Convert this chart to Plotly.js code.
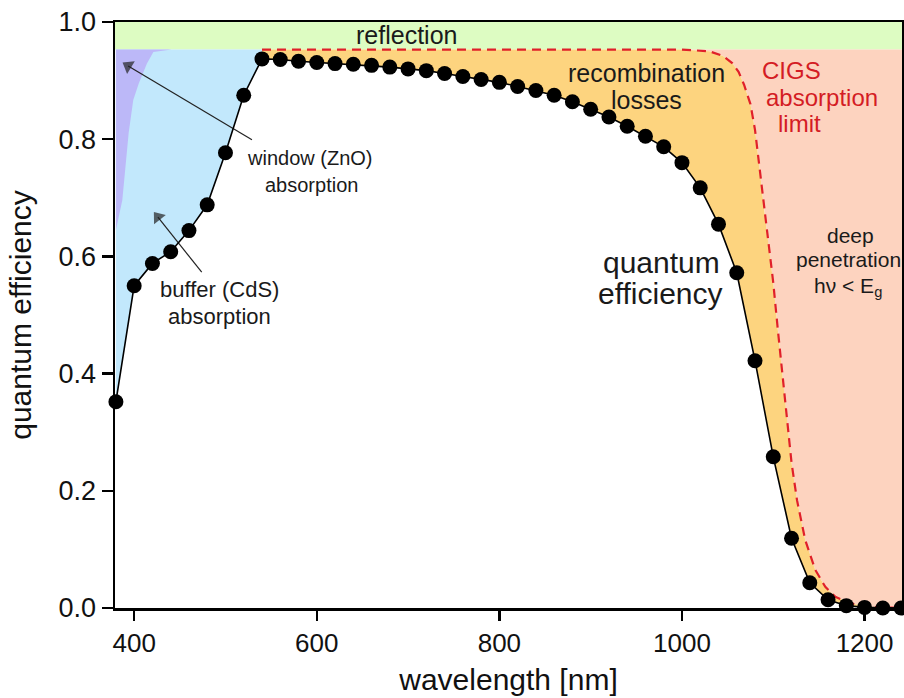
<!DOCTYPE html>
<html>
<head>
<meta charset="utf-8">
<script src="https://cdn.plot.ly/plotly-3.0.1.min.js"></script>
<style>html,body{margin:0;padding:0;background:#fff;}#chart{width:904px;height:698px;}</style>
</head>
<body>
<div id="chart"></div>
<script>
// Measured quantum efficiency (every 20 nm)
const wavelength = [380,400,420,440,460,480,500,520,540,560,580,600,620,640,660,680,700,720,740,760,780,800,820,840,860,880,900,920,940,960,980,1000,1020,1040,1060,1080,1100,1120,1140,1160,1180,1200,1220,1240];
const qe = [0.352,0.550,0.588,0.608,0.644,0.688,0.777,0.875,0.937,0.936,0.933,0.931,0.929,0.928,0.926,0.923,0.920,0.917,0.912,0.907,0.902,0.897,0.890,0.883,0.875,0.864,0.851,0.838,0.822,0.805,0.787,0.760,0.717,0.655,0.572,0.422,0.258,0.119,0.043,0.014,0.004,0.001,0.000,0.000];

// Reflection-loss level (top band up to 1.0)
const reflectionLevel = 0.953;
const fullScale = 1.0;

// CIGS absorption limit (red dashed)
const limitX = [540,1000,1030,1045,1055,1062,1068,1075,1080,1085,1090,1095,1100,1105,1110,1115,1120,1126,1135,1146,1157,1168,1185,1204,1240];
const limitY = [0.953,0.953,0.950,0.942,0.930,0.915,0.893,0.860,0.816,0.750,0.680,0.615,0.555,0.475,0.400,0.320,0.248,0.184,0.116,0.065,0.036,0.019,0.008,0.002,0.000];

// Window (ZnO) absorption edge
const windowEdgeX = [380,387,394,399,405,414,421,441];
const windowEdgeY = [0.645,0.696,0.811,0.867,0.895,0.929,0.949,0.953];

// Wavelength where the QE curve meets the reflection level
const bufferEnd = 540;

// Pointer arrows (tail -> tip) for the window and buffer labels
const windowArrowX = [529, 393.4];
const windowArrowY = [0.799, 0.925];
const bufferArrowX = [474, 426];
const bufferArrowY = [0.573, 0.667];

// Axis ticks
const xTicks = [400, 600, 800, 1000, 1200];
const yTicks = [0, 0.2, 0.4, 0.6, 0.8, 1.0];

const xMin = 379, xMax = 1241;

// ---- build polygons from the data ----
const iEnd = wavelength.indexOf(bufferEnd);
const blueX = wavelength.slice(0, iEnd + 1).concat([bufferEnd, wavelength[0]]);
const blueY = qe.slice(0, iEnd + 1).concat([reflectionLevel, reflectionLevel]);

const purpleX = [windowEdgeX[0]].concat(windowEdgeX);
const purpleY = [reflectionLevel].concat(windowEdgeY);

const orangeX = wavelength.slice(iEnd).concat(limitX.slice().reverse());
const orangeY = qe.slice(iEnd).concat(limitY.slice().reverse());

const kneeIdx = 1;
const pinkX = limitX.slice(kneeIdx).concat([xMax, xMax, limitX[kneeIdx]]);
const pinkY = limitY.slice(kneeIdx).concat([limitY[limitY.length-1], reflectionLevel, reflectionLevel]);

const greenX = [xMin, xMax, xMax, xMin];
const greenY = [reflectionLevel, reflectionLevel, fullScale, fullScale];

function area(x, y, color) {
  return {x: x, y: y, type: 'scatter', mode: 'lines', fill: 'toself', fillcolor: color,
          line: {width: 0, color: color}, hoverinfo: 'skip', showlegend: false};
}
function arrow(x, y) {
  return {x: x, y: y, type: 'scatter', mode: 'lines+markers',
          line: {color: '#222', width: 1.2},
          marker: {symbol: 'triangle-up', angleref: 'previous', size: [0, 13], color: '#222', line: {width: 0}},
          hoverinfo: 'skip', showlegend: false, cliponaxis: false};
}

const traces = [
  area(greenX, greenY, '#ddfcc2'),
  area(pinkX, pinkY, '#fdd3bf'),
  area(orangeX, orangeY, '#fdd47f'),
  area(blueX, blueY, '#c2e8fc'),
  area(purpleX, purpleY, '#bcb8f8'),
  {x: limitX, y: limitY, type: 'scatter', mode: 'lines',
   line: {color: '#e0202a', width: 2.2, dash: '9px,6px'}, hoverinfo: 'skip', showlegend: false},
  arrow(windowArrowX, windowArrowY),
  arrow(bufferArrowX, bufferArrowY),
  {x: wavelength, y: qe, type: 'scatter', mode: 'lines+markers',
   line: {color: '#000', width: 1.6}, marker: {color: '#000', size: 15},
   cliponaxis: false, showlegend: false}
];

const FONT = 'Liberation Sans, Arial, Helvetica, sans-serif';
const txt = '#1a1a1a';
const red = '#d41c24';

function label(x, y, text, size, color, anchor) {
  return {x: x, y: y, text: text, showarrow: false, xanchor: anchor || 'center', yanchor: 'middle',
          font: {size: size, color: color || txt}};
}

const layout = {
  width: 904, height: 698,
  margin: {l: 115, r: 2, t: 22, b: 90},
  paper_bgcolor: '#fff', plot_bgcolor: '#fff',
  font: {family: FONT, color: '#111', size: 22},
  xaxis: {
    range: [xMin, xMax], showgrid: false, zeroline: false,
    showline: true, linecolor: '#000', linewidth: 2.5, mirror: true,
    ticks: 'outside', ticklen: 10, tickwidth: 2.5, tickcolor: '#000',
    tickvals: xTicks,
    tickfont: {size: 26, color: '#111'},
    title: {text: 'wavelength [nm]', font: {size: 30, color: '#111'}, standoff: 13}
  },
  yaxis: {
    range: [0, 1.0], showgrid: false, zeroline: false,
    showline: true, linecolor: '#000', linewidth: 2.5, mirror: true,
    ticks: 'outside', ticklen: 11, tickwidth: 2.5, tickcolor: '#000',
    tickvals: yTicks, tickformat: '.1f',
    tickfont: {size: 27, color: '#111'},
    title: {text: 'quantum efficiency', font: {size: 30, color: '#111'}, standoff: 18}
  },
  annotations: [
    label(698, 0.978, 'reflection', 25),
    label(961, 0.913, 'recombination', 25),
    label(961, 0.867, 'losses', 25),
    label(1086, 0.918, 'CIGS', 24, red, 'left'),
    label(1090, 0.872, 'absorption', 24, red, 'left'),
    label(1103, 0.826, 'limit', 24, red, 'left'),
    label(1185, 0.635, 'deep', 21),
    label(1182, 0.594, 'penetration', 21),
    label(1182, 0.548, 'h\u03bd &lt; E<sub>g</sub>', 21),
    label(978, 0.590, 'quantum', 30),
    label(977, 0.536, 'efficiency', 30),
    label(592, 0.768, 'window (ZnO)', 20),
    label(594, 0.722, 'absorption', 20),
    label(493, 0.543, 'buffer (CdS)', 22),
    label(493, 0.497, 'absorption', 22)
  ]
};

Plotly.newPlot('chart', traces, layout, {displayModeBar: false, staticPlot: true});
</script>
</body>
</html>
